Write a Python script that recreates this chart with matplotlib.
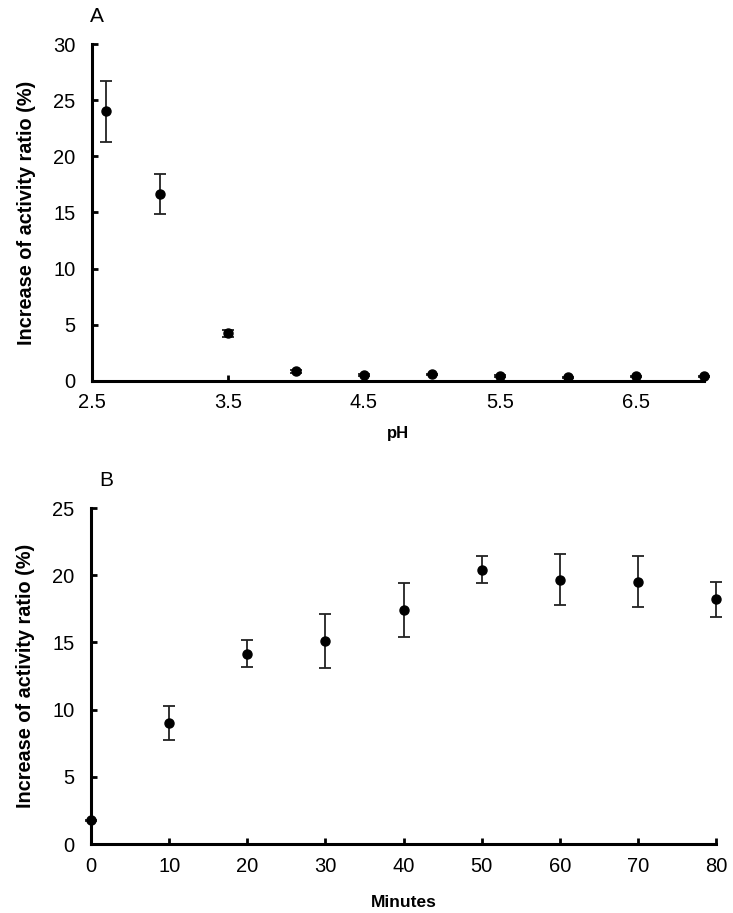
import matplotlib
matplotlib.use("Agg")
import matplotlib.pyplot as plt

plt.rcParams['font.family'] = ['Liberation Sans', 'DejaVu Sans']

# Panel A data
ph = [2.6, 3.0, 3.5, 4.0, 4.5, 5.0, 5.5, 6.0, 6.5, 7.0]
ph_val = [24.0, 16.65, 4.25, 0.85, 0.55, 0.6, 0.45, 0.35, 0.42, 0.42]
ph_err = [2.7, 1.8, 0.3, 0.1, 0.1, 0.05, 0.05, 0.05, 0.05, 0.05]
ph_ticks = [2.5, 3.5, 4.5, 5.5, 6.5]

# Panel B data
minutes = [0, 10, 20, 30, 40, 50, 60, 70, 80]
min_val = [1.75, 9.0, 14.15, 15.1, 17.4, 20.4, 19.65, 19.5, 18.2]
min_err = [0.05, 1.27, 1.0, 2.0, 2.0, 1.0, 1.9, 1.9, 1.3]
min_ticks = [0, 10, 20, 30, 40, 50, 60, 70, 80]

fig = plt.figure(figsize=(7.33, 9.13), dpi=100)
W, H = 733, 913

def add_axes(l, r, t, b):
    return fig.add_axes([l / W, 1 - b / H, (r - l) / W, (b - t) / H])

axA = add_axes(92, 704, 44, 381)
axB = add_axes(91, 716, 508, 844)

def style(ax):
    for s in ['top', 'right']:
        ax.spines[s].set_visible(False)
    for s in ['left', 'bottom']:
        ax.spines[s].set_linewidth(2.2)
        ax.spines[s].set_color('black')
    ax.tick_params(direction='in', length=4, width=2, labelsize=14.5)
    ax.tick_params(axis='x', pad=9)
    ax.tick_params(axis='y', pad=12)

axA.errorbar(ph, ph_val, yerr=ph_err, fmt='o', color='black', ms=6.5,
             ecolor='#222222', elinewidth=1.3, capsize=4, capthick=1.3, clip_on=False)
axA.set_xlim(2.5, 7.0)
axA.set_ylim(0, 30)
axA.set_xticks(ph_ticks)
axA.set_xticklabels([str(t) for t in ph_ticks])
axA.set_yticks([0, 5, 10, 15, 20, 25, 30])
style(axA)
axA.set_xlabel('pH', fontweight='bold', fontsize=12, labelpad=10)
axA.set_ylabel('Increase of activity ratio (%)', fontweight='bold', fontsize=14.3, labelpad=12)

axB.errorbar(minutes, min_val, yerr=min_err, fmt='o', color='black', ms=6.5,
             ecolor='#222222', elinewidth=1.3, capsize=4, capthick=1.3, clip_on=False)
axB.set_xlim(0, 80)
axB.set_ylim(0, 25)
axB.set_xticks(min_ticks)
axB.set_yticks([0, 5, 10, 15, 20, 25])
style(axB)
axB.set_xlabel('Minutes', fontweight='bold', fontsize=12.5, labelpad=14)
axB.set_ylabel('Increase of activity ratio (%)', fontweight='bold', fontsize=14.3, labelpad=12)

fig.text(97 / W, 1 - 16 / H, 'A', fontsize=15, ha='center', va='center')
fig.text(106 / W, 1 - 480 / H, 'B', fontsize=15, ha='center', va='center')

fig.savefig('out.png', dpi=100)
